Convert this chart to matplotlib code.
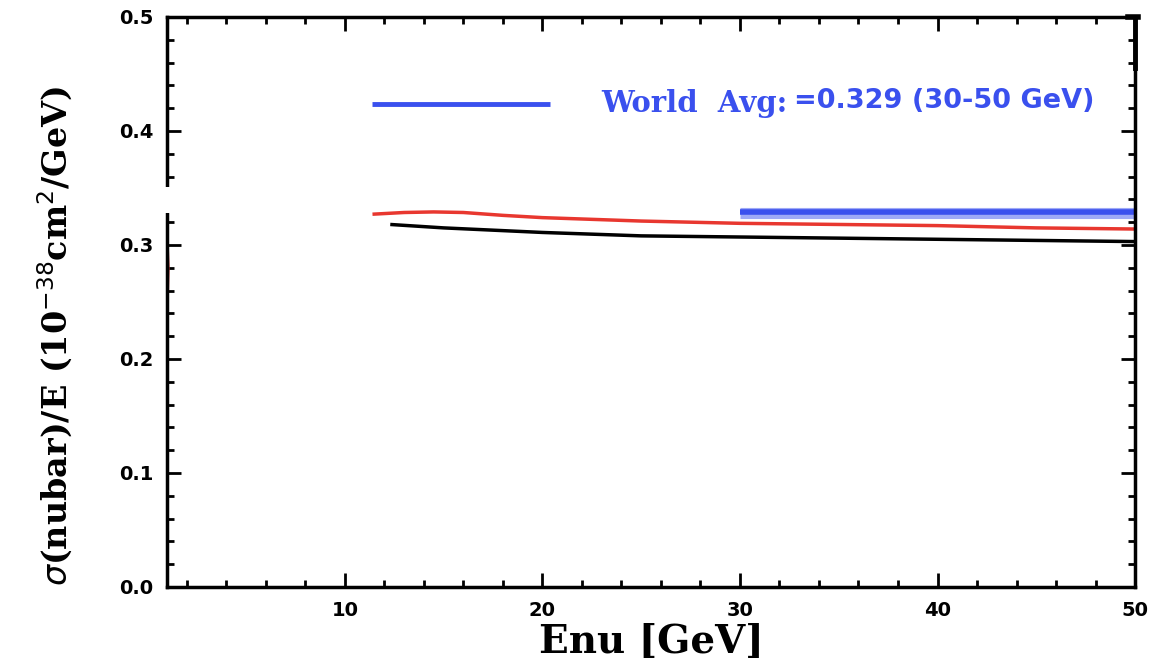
import numpy as np
import matplotlib
matplotlib.use("Agg")
import matplotlib.pyplot as plt
from matplotlib.ticker import MultipleLocator, FormatStrFormatter
from matplotlib.patches import Rectangle
import matplotlib.transforms as mtransforms

# cross section / E curves (10^-38 cm^2/GeV)
e_red = [11.4, 13.0, 14.5, 16.0, 18.0, 20.0, 25.0, 30.0, 35.0, 40.0, 45.0, 50.0]
xs_red = [0.327, 0.3285, 0.329, 0.3285, 0.326, 0.324, 0.321, 0.319, 0.318, 0.317, 0.315, 0.314]
e_black = [12.3, 15.0, 20.0, 25.0, 30.0, 35.0, 40.0, 45.0, 50.0]
xs_black = [0.318, 0.315, 0.311, 0.308, 0.307, 0.306, 0.305, 0.304, 0.303]

# world average band
world_avg = 0.329
avg_range = [30.0, 50.0]

# legend sample line
legend_x = [11.4, 20.4]
legend_y = 0.424

blue = "#3a50ee"

fig = plt.figure(figsize=(11.63, 6.69), dpi=100)
ax = fig.add_axes([0.1436, 0.1226, 0.976 - 0.1436, 0.9746 - 0.1226])

ax.plot(e_red, xs_red, color="#e8372f", lw=2.5, solid_capstyle="butt")
ax.plot(e_black, xs_black, color="black", lw=2.5, solid_capstyle="butt")
ax.plot(avg_range, [world_avg - 0.001, world_avg - 0.001], color="#9ea9f6", lw=8, solid_capstyle="butt")
ax.plot(avg_range, [world_avg, world_avg], color=blue, lw=4, solid_capstyle="butt")
ax.plot(legend_x, [legend_y, legend_y], color=blue, lw=3.5, solid_capstyle="butt")

# faint red stub on the left edge
ax.plot([1.05, 1.1, 1.05], [0.258, 0.28, 0.295], color="#b03030", lw=1.5, alpha=0.7, clip_on=False)

ax.text(23.0, legend_y, "World  Avg:", color=blue, fontsize=21, fontweight="bold",
        family="DejaVu Serif", va="center", ha="left")
ax.text(32.75, legend_y + 0.002, "=0.329 (30-50 GeV)", color=blue, fontsize=19.5,
        fontweight="bold", family="DejaVu Sans", va="center", ha="left")

ax.set_xlim(1, 50)
ax.set_ylim(0.0, 0.5)
ax.xaxis.set_major_locator(MultipleLocator(10))
ax.xaxis.set_minor_locator(MultipleLocator(2))
ax.yaxis.set_major_locator(MultipleLocator(0.1))
ax.yaxis.set_minor_locator(MultipleLocator(0.02))
ax.yaxis.set_major_formatter(FormatStrFormatter("%.1f"))

ax.tick_params(which="both", direction="in", top=True, right=True, width=2)
ax.tick_params(which="major", length=10, pad=10)
ax.tick_params(which="minor", length=5)
for lab in ax.get_xticklabels() + ax.get_yticklabels():
    lab.set_fontweight("bold")
    lab.set_fontsize(14)
for s in ax.spines.values():
    s.set_linewidth(2.5)

# break in the left axis
trans = mtransforms.blended_transform_factory(ax.transAxes, ax.transData)
ax.add_patch(Rectangle((-0.012, 0.328), 0.024, 0.023, transform=trans,
                       facecolor="white", edgecolor="none", zorder=10, clip_on=False))
# heavier corner at the top of the right axis
ax.plot([0.993, 1.003], [0.5, 0.5], color="black", lw=4, transform=trans, clip_on=False)
ax.plot([1.0, 1.0], [0.5, 0.455], color="black", lw=3.5, transform=trans, clip_on=False)

ax.set_xlabel("Enu [GeV]", family="DejaVu Serif", fontsize=28, fontweight="bold", labelpad=2)
ax.set_ylabel(r"$\sigma$(nubar)/E (10$^{-38}$cm$^{2}$/GeV)", family="DejaVu Serif",
              fontsize=24, fontweight="bold")
ax.yaxis.set_label_coords(-0.095, 0.44)

fig.savefig("out.png", dpi=100)
